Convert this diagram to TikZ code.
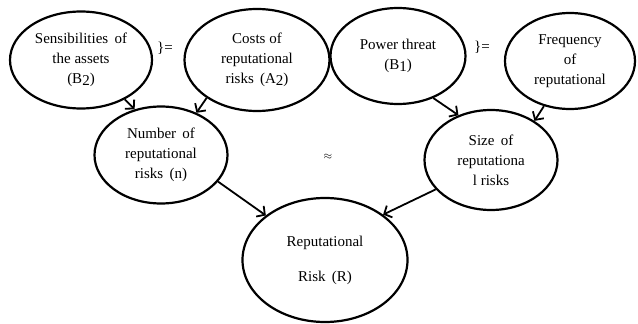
\documentclass[tikz,border=0pt]{standalone}
\usepackage{fontspec}
\setmainfont{Liberation Serif}
\usetikzlibrary{shapes.geometric,arrows.meta}
\tikzset{
  oval/.style={draw, ellipse, line width=2.2pt, inner sep=0pt, align=center,
    font=\fontsize{15}{20}\selectfont},
  conn/.style={line width=1.8pt, -{Straight Barb[length=6pt,width=13pt,line width=1.8pt]}},
  lbl/.style={inner sep=0pt, font=\fontsize{15}{18}\selectfont}
}
\newcommand{\lowdig}[1]{\raisebox{-2pt}{#1}}
\begin{document}
\begin{tikzpicture}[x=1pt,y=-1pt]
\useasboundingbox (0,0) rectangle (638,324);
\node[oval, minimum width=142pt, minimum height=97pt] (e1) at (81,60) {Sensibilities\, of\\the assets\\(B\lowdig{2})};
\node[oval, minimum width=145pt, minimum height=102pt] (e2) at (257,60) {Costs of\\reputational\\risks\, (A\lowdig{2})};
\node[oval, minimum width=135pt, minimum height=96pt] (e3) at (398,56) {Power threat\\(B\lowdig{1})};
\node[oval, minimum width=130pt, minimum height=96pt] (e4) at (570,61) {Frequency\\of\\reputational};
\node[oval, minimum width=133pt, minimum height=97pt] (e5) at (161,155) {Number\, of\\reputational\\risks\, (n)};
\node[oval, minimum width=133pt, minimum height=100pt] (e6) at (491,160) {Size\, of\\reputationa\\l risks};
\node[oval, minimum width=165pt, minimum height=124pt, font=\fontsize{15}{35}\selectfont] (e7) at (325,260) {Reputational\\Risk\, (R)};
\node[lbl] (eq1) at (165,48) {\}=};
\node[lbl] (eq2) at (482,47) {\}=};
\node[lbl, font=\fontsize{11}{13}\selectfont] (approx) at (328,157) {$\approx$};
\draw[conn] (e1.-42) -- (e5.120);
\draw[conn] (e2.-143) -- (e5.50);
\draw[conn] (e3.-50) -- (e6.126);
\draw[conn] (e4.-120) -- (e6.42);
\draw[conn] (e5.-25) -- (e7.143);
\draw[conn] (e6.-152) -- (e7.38);
\end{tikzpicture}
\end{document}
